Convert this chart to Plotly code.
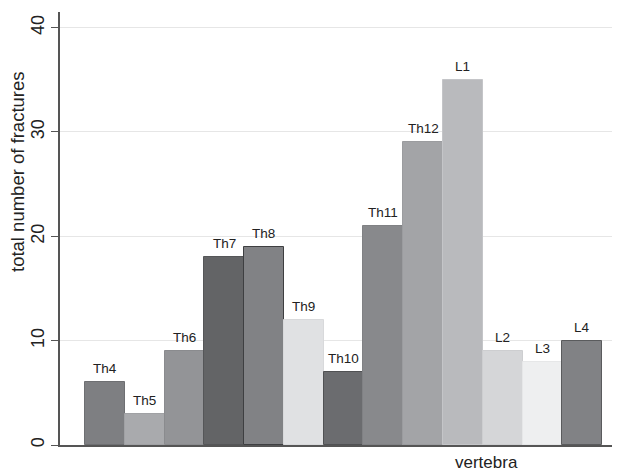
import plotly.graph_objects as go

vertebrae = ["Th4", "Th5", "Th6", "Th7", "Th8", "Th9", "Th10", "Th11", "Th12", "L1", "L2", "L3", "L4"]
fractures = [6, 3, 9, 18, 19, 12, 7, 21, 29, 35, 9, 8, 10]
fill_colors = ["#7e7f82", "#a9aaad", "#939497", "#636466", "#818285", "#e0e1e3",
               "#6b6c6f", "#88898c", "#a3a4a7", "#b9babd", "#d5d6d8", "#eeeff0", "#818285"]
line_colors = ["#6e6f72", "#a0a1a4", "#8a8b8e", "#555658", "#3e3f41", "#d8d9db",
               "#505153", "#808184", "#9b9c9f", "#c4c5c8", "#cdced0", "#e6e7e8", "#5a5b5d"]
y_ticks = [0, 10, 20, 30, 40]

FONT = "Liberation Sans, Arial, sans-serif"

fig = go.Figure()
fig.add_trace(go.Bar(
    x=vertebrae, y=fractures,
    marker=dict(color=fill_colors, line=dict(color=line_colors, width=1)),
    width=1.0, showlegend=False, hoverinfo="x+y",
))

annotations = []
for v, n in zip(vertebrae, fractures):
    annotations.append(dict(x=v, y=n, xref="x", yref="y", text=v, showarrow=False,
                            yanchor="bottom", yshift=4,
                            font=dict(family=FONT, size=13.5, color="#222222")))

annotations.append(dict(x=(486 - 60) / 560, y=(445 - 462) / 433, xref="paper", yref="paper",
                        text="vertebra", showarrow=False, xanchor="center", yanchor="middle",
                        font=dict(family=FONT, size=17, color="#222222")))
annotations.append(dict(x=(17 - 60) / 560, y=(445 - 172) / 433, xref="paper", yref="paper",
                        text="total number of fractures", showarrow=False, textangle=-90,
                        xanchor="center", yanchor="middle",
                        font=dict(family=FONT, size=18.5, color="#222222")))

fig.update_layout(
    width=612, height=465,
    margin=dict(l=52, r=0, t=4, b=28, autoexpand=False),
    paper_bgcolor="white", plot_bgcolor="white",
    bargap=0,
    annotations=annotations,
    xaxis=dict(range=[-1.128, 12.95], showticklabels=False, ticks="", showgrid=False,
               showline=True, linecolor="#555555", linewidth=1.5, zeroline=False, fixedrange=True),
    yaxis=dict(range=[0, 41.5], tickvals=y_ticks, ticktext=[str(t) for t in y_ticks],
               tickangle=-90, ticks="outside", ticklen=7, tickcolor="#555555",
               showline=True, linecolor="#555555", linewidth=1.5,
               showgrid=True, gridcolor="#e6e6e6", gridwidth=1.2, zeroline=False,
               tickfont=dict(family=FONT, size=18, color="#222222"),
               fixedrange=True),
)

fig.write_html("out.html")
